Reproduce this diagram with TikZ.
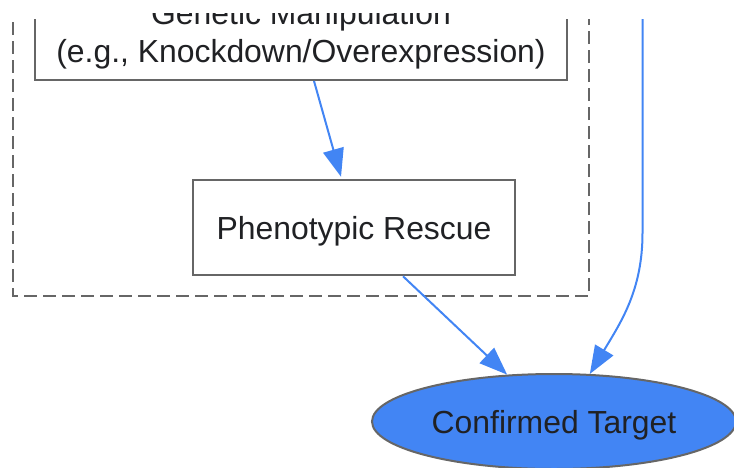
\documentclass[tikz,border=0pt]{standalone}
\usepackage{fontspec}
\setmainfont{Liberation Sans}
\usetikzlibrary{arrows.meta,shapes.geometric,calc}
\definecolor{gblue}{HTML}{4285F4}
\definecolor{edgegray}{HTML}{666666}
\definecolor{txt}{HTML}{202124}
\tikzset{
  boxnode/.style={draw=edgegray, line width=2pt, fill=white, rectangle, inner sep=0pt,
    text=txt, font=\fontsize{31.9}{38}\selectfont, align=center},
  labeltext/.style={inner sep=0pt, text=txt, font=\fontsize{31.9}{38}\selectfont, align=center},
  flow/.style={draw=gblue, line width=2pt, -{Triangle[length=28pt,width=21pt]}},
  cluster/.style={draw=edgegray, line width=2pt, dash pattern=on 13pt off 6pt, dash phase=16pt},
  target/.style={ellipse, draw=edgegray, line width=2pt, fill=gblue, inner sep=0pt,
    minimum width=364pt, minimum height=95pt, text=txt, font=\fontsize{31.9}{38}\selectfont,
    text height=31pt, text depth=7pt}
}
\begin{document}
\begin{tikzpicture}[x=1pt,y=-1pt]
\useasboundingbox (0,0) rectangle (734,467);
\clip (0,0) rectangle (734,467);
% cluster and top box: visible from y=19 down
\begin{scope}
\clip (0,19) rectangle (734,467);
\draw[cluster] (13,19) -- (13,296) -- (589,296) -- (589,19);
\node[boxnode, minimum width=532pt, minimum height=90pt] (gm) at (301,35) {};
\end{scope}
% label of top box: visible from y=13 down
\begin{scope}
\clip (0,13) rectangle (734,467);
\node[labeltext] (gmlabel) at (gm.center) {Genetic Manipulation\\(e.g., Knockdown/Overexpression)};
\end{scope}
% other nodes
\node[boxnode, minimum width=322pt, minimum height=95.5pt, text height=31pt, text depth=7pt]
  (pr) at (354,227.5) {Phenotypic Rescue};
\node[target] (ct) at (554,421.5) {Confirmed Target};
\coordinate (topin) at (642.5,19);
% connectors
\draw[flow] ($(gm.south)+(13,0)$) -- ($(pr.north)+(-13,-2)$);
\draw[flow] ($(pr.south)+(49,0)$) -- (ct.135);
\draw[flow] (topin) -- (642.5,233) .. controls (642.5,290) and (621,322) .. (ct.53);
\end{tikzpicture}
\end{document}
